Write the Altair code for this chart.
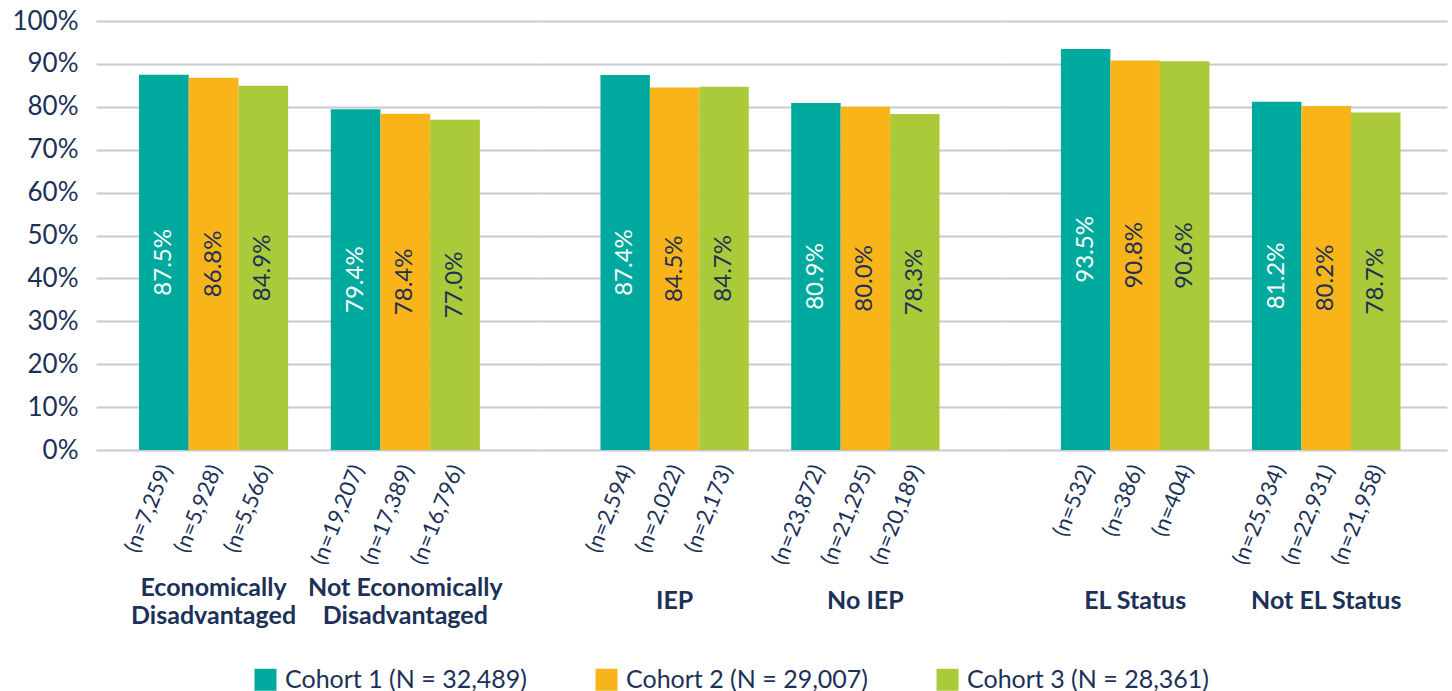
import altair as alt
import pandas as pd

# ---- data ----
groups = ["Economically|Disadvantaged", "Not Economically|Disadvantaged", "IEP", "No IEP", "EL Status", "Not EL Status"]
pair_of_group = [0, 0, 1, 1, 2, 2]
cohorts = ["Cohort 1 (N = 32,489)", "Cohort 2 (N = 29,007)", "Cohort 3 (N = 28,361)"]
cohort1_pct = [87.5, 79.4, 87.4, 80.9, 93.5, 81.2]
cohort2_pct = [86.8, 78.4, 84.5, 80.0, 90.8, 80.2]
cohort3_pct = [84.9, 77.0, 84.7, 78.3, 90.6, 78.7]
cohort1_n = ["7,259", "19,207", "2,594", "23,872", "532", "25,934"]
cohort2_n = ["5,928", "17,389", "2,022", "21,295", "386", "22,931"]
cohort3_n = ["5,566", "16,796", "2,173", "20,189", "404", "21,958"]
y_ticks = [0, 0.1, 0.2, 0.3, 0.4, 0.5, 0.6, 0.7, 0.8, 0.9, 1.0]

rows = []
for ci, (pcts, ns) in enumerate([(cohort1_pct, cohort1_n), (cohort2_pct, cohort2_n), (cohort3_pct, cohort3_n)]):
    for gi, g in enumerate(groups):
        rows.append({
            "group": g,
            "pair": pair_of_group[gi],
            "cohort": cohorts[ci],
            "value": pcts[gi] / 100.0,
            "label": f"{pcts[gi]:.1f}%",
            "nlabel": f"(n={ns[gi]})",
        })
df = pd.DataFrame(rows)

# ---- styles ----
NAVY = "#1C3158"
COLORS = ["#00A99D", "#F9B41A", "#ABCA3A"]
GRID = "#C6CACF"
FONT = "Lato"
PLOT_H = 429

panel_cfg = [
    # width, paddingOuter, align
    (444, 0.269, 0.417),
    (460, 0.317, 0.5),
    (447, 0.281, 0.567),
]


def panel(p):
    width, po, align = panel_cfg[p]
    sub = df[df["pair"] == p]
    order = [g for g, q in zip(groups, pair_of_group) if q == p]
    base = alt.Chart(sub).properties(width=width, height=PLOT_H)

    x = alt.X(
        "group:N",
        sort=order,
        scale=alt.Scale(paddingInner=0.2225, paddingOuter=po, align=align),
        axis=alt.Axis(
            title=None,
            domain=False,
            ticks=False,
            tickSize=0,
            labelAngle=0,
            labelExpr="split(datum.label, '|')",
            labelFont=FONT,
            labelFontWeight="bold",
            labelFontSize=25,
            labelColor=NAVY,
            labelLineHeight=28,
            labelBaseline="middle",
            labelPadding={"condition": {"test": "indexof(datum.label, '|') >= 0", "value": 137}, "value": 150},
            labelLimit=500,
            labelOverlap=False,
        ),
    )
    xo = alt.XOffset("cohort:N", sort=cohorts, scale=alt.Scale(paddingInner=0, paddingOuter=0))
    yaxis = alt.Axis(
        title=None,
        values=y_ticks,
        format=".0%",
        domain=False,
        ticks=False,
        labels=(p == 0),
        labelFont=FONT,
        labelFontSize=26,
        labelColor=NAVY,
        labelPadding=18,
        grid=True,
        gridColor=GRID,
        gridWidth=2,
    )
    yscale = alt.Scale(domain=[0, 1], nice=False)

    bars = base.mark_bar().encode(
        x=x,
        xOffset=xo,
        y=alt.Y("value:Q", scale=yscale, axis=yaxis),
        color=alt.Color(
            "cohort:N",
            sort=cohorts,
            scale=alt.Scale(domain=cohorts, range=COLORS),
            legend=alt.Legend(
                title=None,
                orient="none",
                direction="horizontal",
                columns=3,
                legendX=157,
                legendY=646,
                symbolType="square",
                symbolSize=484,
                symbolStrokeWidth=0,
                symbolOpacity=1,
                labelFont=FONT,
                labelFontSize=25,
                labelColor=NAVY,
                labelOffset=7,
                columnPadding=66,
                labelLimit=400,
            ),
        ),
    )

    vals = base.transform_calculate(mid="datum.value / 2").mark_text(
        angle=270, align="center", baseline="middle", font=FONT, fontSize=24
    ).encode(
        x=x,
        xOffset=xo,
        y=alt.Y("mid:Q", scale=yscale, axis=yaxis),
        text="label:N",
        color=alt.condition(alt.datum.cohort == cohorts[0], alt.value("white"), alt.value(NAVY)),
    )

    ns = base.mark_text(
        angle=292, align="right", baseline="middle", font=FONT, fontSize=22, color=NAVY, dx=1, dy=2
    ).encode(
        x=x,
        xOffset=xo,
        y=alt.value(PLOT_H + 16),
        text="nlabel:N",
    )
    return alt.layer(bars, vals, ns)


chart = (
    alt.hconcat(panel(0), panel(1), panel(2), spacing=0)
    .resolve_scale(x="independent", xOffset="independent", y="independent", color="shared")
    .properties(padding={"left": 11, "top": 8, "right": 5, "bottom": 5}, background="white")
    .configure_view(stroke=None)
)

chart.save("out.html", embed_options={"renderer": "svg", "actions": False})
